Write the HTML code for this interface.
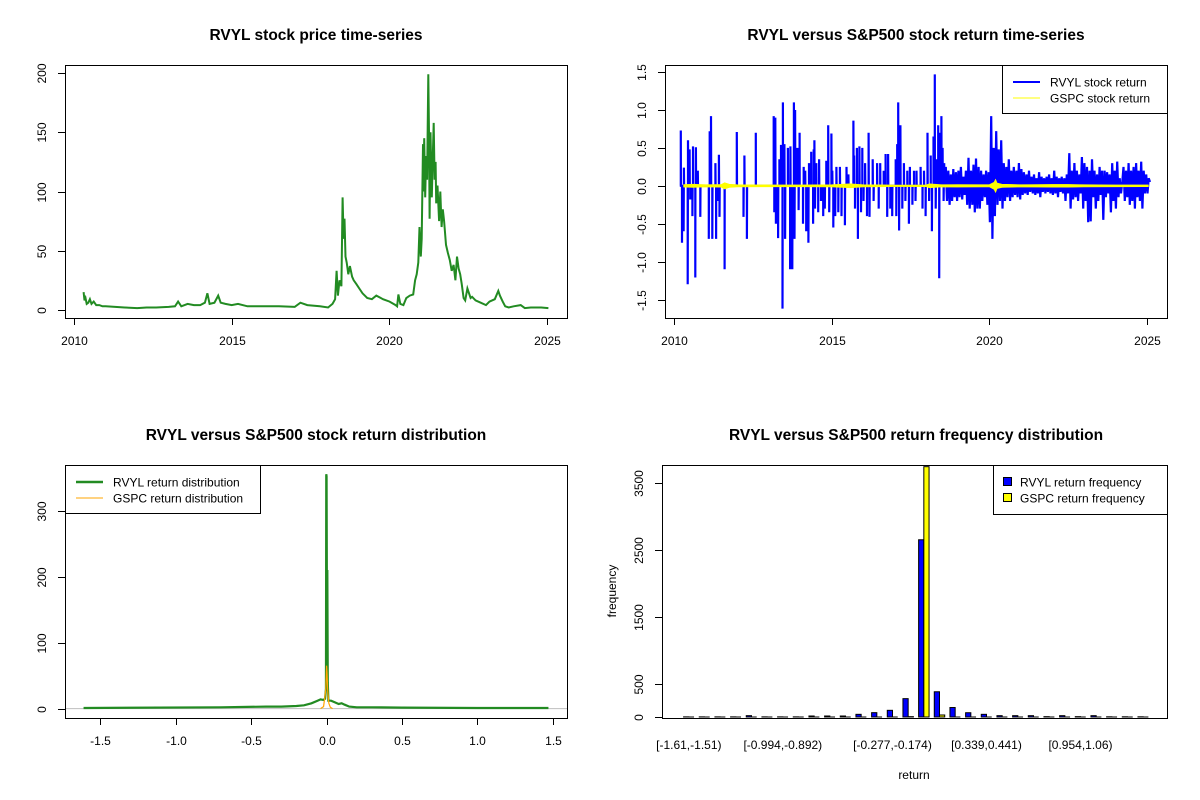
<!DOCTYPE html>
<html><head><meta charset="utf-8"><title>RVYL charts</title>
<style>
html,body{margin:0;padding:0;background:#fff;}
svg{display:block;font-family:"Liberation Sans",Arial,sans-serif;}
.title{font-weight:bold;font-size:15.5px;text-anchor:middle;}
.tick{font-size:12px;}
</style></head>
<body>
<svg id="chart" width="1200" height="800" viewBox="0 0 1200 800" xmlns="http://www.w3.org/2000/svg">
<rect x="0" y="0" width="1200" height="800" fill="#fff"/>
<text class="title" x="316" y="40">RVYL stock price time-series</text>
<text class="title" x="916" y="40">RVYL versus S&amp;P500 stock return time-series</text>
<text class="title" x="316" y="440">RVYL versus S&amp;P500 stock return distribution</text>
<text class="title" x="916" y="440">RVYL versus S&amp;P500 return frequency distribution</text>
<text class="tick" x="914" y="779" text-anchor="middle">return</text>
<text class="tick" x="616" y="591" text-anchor="middle" transform="rotate(-90 616 591)">frequency</text>
</svg>
<script>
// ---------- Data ----------
const priceYears=[2010.30,2010.33,2010.36,2010.40,2010.45,2010.50,2010.55,2010.62,2010.70,2010.80,
2010.90,2011.0,2011.3,2011.6,2012.0,2012.3,2012.6,2013.0,2013.2,2013.3,
2013.4,2013.6,2013.8,2014.0,2014.15,2014.23,2014.3,2014.45,2014.57,2014.65,
2014.8,2015.0,2015.2,2015.5,2016.0,2016.5,2017.0,2017.18,2017.4,2017.8,
2018.06,2018.2,2018.28,2018.33,2018.37,2018.42,2018.48,2018.52,2018.55,2018.58,
2018.61,2018.65,2018.7,2018.75,2018.82,2018.87,2018.95,2019.05,2019.15,2019.3,
2019.45,2019.59,2019.8,2020.01,2020.2,2020.25,2020.29,2020.35,2020.45,2020.54,
2020.65,2020.76,2020.82,2020.87,2020.92,2020.96,2021.0,2021.03,2021.07,2021.09,
2021.11,2021.14,2021.17,2021.2,2021.24,2021.26,2021.28,2021.31,2021.35,2021.38,
2021.41,2021.44,2021.47,2021.49,2021.53,2021.58,2021.62,2021.66,2021.7,2021.74,
2021.8,2021.86,2021.92,2021.98,2022.04,2022.1,2022.15,2022.2,2022.25,2022.3,
2022.36,2022.41,2022.48,2022.58,2022.63,2022.74,2022.9,2023.07,2023.18,2023.35,
2023.46,2023.51,2023.6,2023.68,2023.79,2023.95,2024.17,2024.3,2024.49,2024.82,2025.05];
const priceValues=[15,8,10,5,6,9,5,7,4,4,
3,3,2.5,2,1.5,2,2,2.5,3,7,
3,5,4,4,6,14,5,6,12,6,
5,4,5,3,3,3,2.5,6,4,3,
2,5,9,33,12,25,20,95,60,77,
45,40,30,37,28,25,22,18,14,10,
9,12,9,7,4,3,13,5,4,10,
12,13,25,30,40,70,45,60,140,100,
145,95,130,110,199,150,77,150,95,130,
158,110,125,90,105,75,100,70,85,75,
55,48,42,33,38,25,45,35,30,22,
10,8,18,10,11,8,6,4,7,9,
16,12,7,3,2,3,4,1.5,2,2,1.5];
const yearTicks=[2010,2015,2020,2025];
const priceTicks=[0,50,100,150,200];

const spikeDates=[2010.21,2010.25,2010.30,2010.31,2010.43,2010.44,2010.49,2010.51,2010.58,2010.60,2010.67,2010.69,2010.75,2010.83,2011.10,2011.13,2011.17,2011.21,2011.31,2011.33,2011.37,2011.42,2011.44,2011.60,2011.99,2012.20,2012.23,2012.31,2012.59,2013.16,2013.18,2013.21,2013.23,2013.30,2013.34,2013.39,2013.44,2013.45,2013.50,2013.52,2013.61,2013.68,2013.69,2013.75,2013.80,2013.82,2013.84,2013.91,2013.95,2013.98,2014.09,2014.11,2014.16,2014.19,2014.26,2014.28,2014.35,2014.41,2014.43,2014.45,2014.47,2014.51,2014.57,2014.60,2014.66,2014.73,2014.78,2014.83,2014.89,2014.92,2014.99,2015.02,2015.05,2015.11,2015.15,2015.21,2015.26,2015.31,2015.42,2015.47,2015.53,2015.69,2015.71,2015.74,2015.80,2015.83,2015.88,2015.93,2015.97,2016.01,2016.06,2016.12,2016.17,2016.20,2016.30,2016.33,2016.44,2016.49,2016.54,2016.65,2016.71,2016.76,2016.79,2016.86,2016.92,2017.03,2017.05,2017.08,2017.11,2017.14,2017.18,2017.24,2017.29,2017.34,2017.40,2017.45,2017.48,2017.56,2017.61,2017.66,2017.69,2017.82,2017.88,2017.93,2017.98,2018.04,2018.09,2018.14,2018.18,2018.23,2018.27,2018.30,2018.34,2018.38,2018.41,2018.44,2018.48,2018.52,2018.55,2018.57];
const spikeValues=[0.73,-0.75,-0.6,0.24,-1.3,0.6,0.48,-0.18,-0.4,0.52,-1.21,0.51,0.2,-0.41,-0.7,0.72,0.92,-0.7,0.3,-0.7,-0.2,0.41,-0.41,-1.1,0.71,-0.41,0.4,-0.7,0.7,0.92,-0.35,0.9,-0.5,-0.69,0.35,0.54,-1.62,1.1,0.55,-0.7,0.5,-1.1,0.52,-1.1,1.1,-0.7,1.0,0.5,-0.32,0.7,-0.5,0.25,0.2,-0.6,-0.75,0.3,0.45,-0.5,0.48,0.6,-0.3,0.3,-0.35,0.35,-0.2,-0.4,-0.3,0.33,0.8,-0.35,0.69,0.2,-0.55,-0.4,0.25,-0.35,0.25,-0.4,-0.52,0.25,0.15,0.86,0.4,-0.3,0.5,-0.7,0.52,-0.35,0.5,-0.2,0.3,-0.4,0.7,-0.41,0.35,-0.2,0.3,-0.3,0.3,0.2,0.42,-0.41,0.42,-0.3,-0.4,0.35,-0.4,0.55,1.1,-0.59,0.8,-0.3,0.3,-0.2,0.2,-0.5,0.25,-0.25,0.2,-0.2,0.2,0.25,-0.3,0.2,-0.4,0.7,-0.2,0.4,-0.6,0.65,1.47,-0.3,0.35,0.8,-1.22,0.7,0.92,0.5,-0.2,0.3];
const denseStart=2018.62;
const denseStep=0.04;
const denseValues=[0.25,-0.2,0.2,-0.25,0.15,-0.2,0.22,-0.15,0.18,-0.2,0.2,-0.15,0.25,-0.18,0.12,-0.12,0.2,-0.25,0.37,-0.3,0.2,-0.25,0.28,-0.35,0.36,-0.3,0.25,-0.3,0.2,-0.2,0.15,-0.15,0.2,-0.25,0.18,
-0.48,0.92,-0.7,0.5,-0.4,0.72,-0.25,0.48,-0.2,0.6,-0.3,0.3,-0.2,0.25,-0.15,0.35,-0.2,0.2,-0.15,0.25,-0.12,0.2,-0.15,0.3,-0.18,0.22,-0.12,
0.18,-0.1,0.15,-0.12,0.2,-0.08,0.12,-0.1,0.15,-0.12,0.1,-0.1,0.18,-0.15,0.12,-0.08,0.1,-0.1,0.12,-0.08,0.15,-0.1,0.1,-0.12,0.2,-0.1,0.12,-0.15,0.1,-0.08,0.12,-0.1,0.1,-0.2,0.15,-0.1,
0.43,-0.3,0.2,-0.18,0.3,-0.15,0.2,-0.2,0.15,-0.1,0.38,-0.3,0.3,-0.2,0.25,-0.48,0.2,-0.47,0.35,-0.15,0.2,-0.3,0.15,-0.2,0.25,-0.12,0.2,-0.45,0.2,-0.15,0.18,-0.1,0.15,-0.35,0.3,-0.2,0.2,-0.3,0.32,-0.15,0.1,-0.1,0.05,
0.25,-0.2,0.2,-0.15,0.3,-0.25,0.2,-0.2,0.25,-0.3,0.3,-0.15,0.2,-0.2,0.32,-0.3,0.2,-0.1,0.15,-0.1,0.1,0.05];
const gspcYears=[2010.3,2010.6,2011.0,2011.5,2011.6,2011.75,2012,2013,2014,2015,2015.6,2016,2017,2018,2018.1,2018.5,2019,2020.0,2020.15,2020.2,2020.25,2020.4,2021,2022,2022.5,2023,2024,2025.05];
const gspcAmp=[0.01,0.015,0.008,0.012,0.035,0.015,0.008,0.006,0.006,0.008,0.02,0.008,0.004,0.005,0.02,0.008,0.01,0.008,0.04,0.08,0.03,0.015,0.008,0.012,0.012,0.008,0.006,0.005];
const returnTicks=[-1.5,-1.0,-0.5,0.0,0.5,1.0,1.5];

const densRvylX=[-1.61,-0.7,-0.4,-0.3,-0.2,-0.15,-0.1,-0.06,-0.04,-0.02,-0.01,-0.004,-0.002,0.0,0.003,0.005,0.008,0.012,0.03,0.05,0.08,0.1,0.12,0.15,0.2,0.3,0.5,1.0,1.47];
const densRvylY=[1,2,3,3,4,5,8,12,14,13,15,30,355,352,100,210,40,12,12,10,7,8,6,3,2,2,1.5,1,1];
const densGspcX=[-0.04,-0.02,-0.01,-0.005,0,0.003,0.008,0.015,0.025,0.04];
const densGspcY=[0,3,20,30,65,55,25,8,2,0];
const densXTicks=[-1.5,-1.0,-0.5,0.0,0.5,1.0,1.5];
const densYTicks=[0,100,200,300];

const binLabels=["[-1.61,-1.51)","[-1.51,-1.41)","[-1.41,-1.3)","[-1.3,-1.2)","[-1.2,-1.1)","[-1.1,-0.994)","[-0.994,-0.892)","[-0.892,-0.789)","[-0.789,-0.687)","[-0.687,-0.584)","[-0.584,-0.482)","[-0.482,-0.379)","[-0.379,-0.277)","[-0.277,-0.174)","[-0.174,-0.0717)","[-0.0717,0.0308)","[0.0308,0.133)","[0.133,0.236)","[0.236,0.339)","[0.339,0.441)","[0.441,0.544)","[0.544,0.646)","[0.646,0.749)","[0.749,0.851)","[0.851,0.954)","[0.954,1.06)","[1.06,1.16)","[1.16,1.26)","[1.26,1.36)","[1.36,1.47)"];
const rvylFreq=[2,2,2,2,20,2,2,2,15,15,15,40,65,100,275,2655,378,142,64,40,20,20,20,5,20,5,20,3,3,3];
const gspcFreq=[0,0,0,0,0,0,0,0,0,0,0,0,0,0,5,3750,30,0,0,0,0,0,0,0,0,0,0,0,0,0];
const shownBins=[0,6,13,19,25];
const freqTicks=[0,500,1500,2500,3500];

// ---------- Helpers ----------
const NS='http://www.w3.org/2000/svg';
const svg=document.getElementById('chart');
function mk(parent,tag,attrs){const e=document.createElementNS(NS,tag);for(const k in attrs)e.setAttribute(k,attrs[k]);parent.appendChild(e);return e;}
function lin(d0,d1,r0,r1){return v=>r0+(v-d0)/(d1-d0)*(r1-r0);}

function frame(g,x0,y0,x1,y1,name){
  const r=mk(g,'rect',{x:x0+.5,y:y0+.5,width:x1-x0,height:y1-y0,fill:'none',stroke:'#000','stroke-width':1});
  
  
}
function xAxis(g,ticks,sx,yb,labelFn,name){
  const ax=mk(g,'g',{});
  
  
  mk(ax,'line',{x1:sx(ticks[0]),x2:sx(ticks[ticks.length-1]),y1:yb+.5,y2:yb+.5,stroke:'#000'});
  ticks.forEach(t=>{
    const x=Math.round(sx(t))+.5;
    mk(ax,'line',{x1:x,x2:x,y1:yb,y2:yb+7,stroke:'#000'});
    const tx=mk(ax,'text',{x:x,y:yb+27,'text-anchor':'middle',class:'tick'});
    tx.textContent=labelFn(t);
    
    
  });
}
function yAxis(g,ticks,sy,xl,labelFn,name){
  const ax=mk(g,'g',{});
  
  
  mk(ax,'line',{x1:xl+.5,x2:xl+.5,y1:sy(ticks[0]),y2:sy(ticks[ticks.length-1]),stroke:'#000'});
  ticks.forEach(t=>{
    const y=Math.round(sy(t))+.5;
    mk(ax,'line',{x1:xl-7,x2:xl,y1:y,y2:y,stroke:'#000'});
    const lx=xl-19;
    const tx=mk(ax,'text',{x:lx,y:y,'text-anchor':'middle',class:'tick',transform:`rotate(-90 ${lx} ${y})`});
    tx.textContent=labelFn(t);
    
    
  });
}
function legend(g,x0,y0,w,h,items,name){
  const lg=mk(g,'g',{});
  
  
  mk(lg,'rect',{x:x0+.5,y:y0+.5,width:w,height:h,fill:'#fff',stroke:'#000'});
  items.forEach((it,i)=>{
    const y=y0+17+i*16;
    if(it.box){
      mk(lg,'rect',{x:x0+10.5,y:y-4.5,width:8,height:8,fill:it.color,stroke:'#000'});
    }else{
      mk(lg,'line',{x1:x0+11,x2:x0+38,y1:y,y2:y,stroke:it.color,'stroke-width':it.w});
    }
    const tx=mk(lg,'text',{x:x0+(it.box?27:48),y:y+4.5,class:'tick'});
    tx.textContent=it.label;
    
    
  });
}

// ---------- Panel 1: price ----------
(function(){
  const g=mk(svg,'g',{});
  
  
  const sx=lin(2009.71,2025.64,65,567), sy=lin(-6.9,206.9,318,65);
  const n=Math.min(priceYears.length,priceValues.length);
  let d='';
  for(let i=0;i<n;i++) d+=(i?'L':'M')+sx(priceYears[i]).toFixed(1)+' '+sy(priceValues[i]).toFixed(1);
  const p=mk(g,'path',{d:d,fill:'none',stroke:'#228B22','stroke-width':2,'stroke-linejoin':'miter'});
  
  
  frame(g,65,65,567,318,'price-plot-frame');
  xAxis(g,yearTicks,sx,318,t=>String(t),'price-x-axis');
  yAxis(g,priceTicks,sy,65,t=>String(t),'price-y-axis');
})();

// ---------- Panel 2: returns ----------
(function(){
  const g=mk(svg,'g',{});
  
  
  const sx=lin(2009.71,2025.64,665,1167), sy=lin(-1.744,1.594,318,65);
  let d='M'+sx(spikeDates[0]-0.01).toFixed(1)+' '+sy(0).toFixed(1);
  const n=Math.min(spikeDates.length,spikeValues.length);
  for(let i=0;i<n;i++){
    d+='L'+sx(spikeDates[i]).toFixed(1)+' '+sy(0).toFixed(1);
    d+='L'+sx(spikeDates[i]).toFixed(1)+' '+sy(spikeValues[i]).toFixed(1);
    d+='L'+sx(spikeDates[i]+0.006).toFixed(1)+' '+sy(0).toFixed(1);
  }
  denseValues.forEach((v,i)=>{d+='L'+sx(denseStart+i*denseStep).toFixed(1)+' '+sy(v).toFixed(1);});
  const p=mk(g,'path',{d:d,fill:'none',stroke:'#0000FF','stroke-width':2.2});
  
  
  let up='',dn='';
  gspcYears.forEach((y,i)=>{up+=(i?'L':'M')+sx(y).toFixed(1)+' '+(sy(gspcAmp[i])-0.5).toFixed(1);});
  for(let i=gspcYears.length-1;i>=0;i--) dn+='L'+sx(gspcYears[i]).toFixed(1)+' '+(sy(-gspcAmp[i])+0.5).toFixed(1);
  const b=mk(g,'path',{d:up+dn+'Z',fill:'#FFFF00',stroke:'#FFFF00','stroke-width':0.6});
  
  
  frame(g,665,65,1167,318,'return-plot-frame');
  xAxis(g,yearTicks,sx,318,t=>String(t),'return-x-axis');
  yAxis(g,returnTicks,sy,665,t=>t.toFixed(1),'return-y-axis');
  legend(g,1002,65,165,48,[{color:'#0000FF',w:2,label:'RVYL stock return'},{color:'#FFFF00',w:1,label:'GSPC stock return'}],'return-legend');
})();

// ---------- Panel 3: densities ----------
(function(){
  const g=mk(svg,'g',{});
  
  
  const sx=lin(-1.733,1.593,65,567), sy=lin(-14.2,369,718,465);
  const h=mk(g,'line',{x1:65,x2:567,y1:sy(0),y2:sy(0),stroke:'#bebebe'});
  
  
  let d='';
  densRvylX.forEach((x,i)=>{d+=(i?'L':'M')+sx(x).toFixed(2)+' '+sy(densRvylY[i]).toFixed(1);});
  const p=mk(g,'path',{d:d,fill:'none',stroke:'#228B22','stroke-width':2.2});
  
  
  let d2='';
  densGspcX.forEach((x,i)=>{d2+=(i?'L':'M')+sx(x).toFixed(2)+' '+sy(densGspcY[i]).toFixed(1);});
  const q=mk(g,'path',{d:d2,fill:'none',stroke:'#FFA500','stroke-width':1.2});
  
  
  frame(g,65,465,567,718,'distribution-plot-frame');
  xAxis(g,densXTicks,sx,718,t=>t.toFixed(1),'distribution-x-axis');
  yAxis(g,densYTicks,sy,65,t=>String(t),'distribution-y-axis');
  legend(g,65,465,195,48,[{color:'#228B22',w:2.5,label:'RVYL return distribution'},{color:'#FFA500',w:1,label:'GSPC return distribution'}],'distribution-legend');
})();

// ---------- Panel 4: histogram ----------
(function(){
  const g=mk(svg,'g',{});
  
  
  const sx=lin(-2.56,93.56,665,1167), sy=lin(0,3775,717,465);
  const top=465;
  function bar(x0,v,color,name){
    const xa=sx(x0), xb=sx(x0+1);
    if(v<=0){
      const l=mk(g,'line',{x1:xa,x2:xb,y1:sy(0),y2:sy(0),stroke:'#000'});
      
      
      return;
    }
    const yt=Math.max(sy(v),top);
    const r=mk(g,'rect',{x:xa,y:yt,width:xb-xa,height:sy(0)-yt,fill:color,stroke:'#000','stroke-width':1});
    
    
  }
  binLabels.forEach((lab,i)=>{
    bar(1+3*i,rvylFreq[i],'#0000FF','bar-rvyl-'+i);
    bar(2+3*i,gspcFreq[i],'#FFFF00','bar-gspc-'+i);
  });
  shownBins.forEach(i=>{
    const tx=mk(g,'text',{x:sx(2+3*i),y:749,'text-anchor':'middle',class:'tick'});
    tx.textContent=binLabels[i];
    
    
  });
  frame(g,662,465,1167,718,'histogram-plot-frame');
  yAxis(g,freqTicks,sy,662,t=>String(t),'histogram-y-axis');
  legend(g,993,465,174,49,[{color:'#0000FF',box:true,label:'RVYL return frequency'},{color:'#FFFF00',box:true,label:'GSPC return frequency'}],'histogram-legend');
})();
</script>
</body></html>
